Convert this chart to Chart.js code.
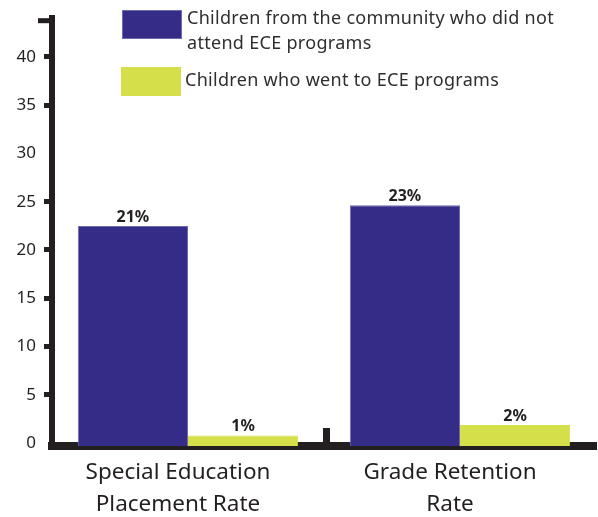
<!DOCTYPE html>
<html lang="en">
  <head>
    <meta charset="UTF-8" />
    <title>ECE programs</title>
    <script src="https://cdn.jsdelivr.net/npm/chart.js"></script>
    <style>
      body { margin: 0; background: #fff; }
      .wrap { position: relative; width: 598px; height: 517px; }
      .legend-box { position: absolute; width: 58px; height: 27px; }
      .legend-text {
        position: absolute;
        font-family: "Noto Sans", sans-serif;
        font-size: 18px;
        letter-spacing: 0.3px;
        line-height: 25px;
        color: #2e2e2e;
        white-space: nowrap;
      }
    </style>
  </head>
  <body>
    <div class="wrap">
      <canvas id="chart" width="598" height="517"></canvas>
      <div id="legend"></div>
    </div>
    <script>
      // data
      const categories = [["Special Education", "Placement Rate"], ["Grade Retention", "Rate"]];
      const seriesNames = [
        ["Children from the community who did not", "attend ECE programs"],
        ["Children who went to ECE programs"],
      ];
      const noEceValues = [21, 23];
      const eceValues = [1, 2];
      const yTicks = [0, 5, 10, 15, 20, 25, 30, 35, 40];
      const hiddenTickMarks = [0, 30];

      const blue = "#352c87";
      const green = "#d5df49";
      const ink = "#231f20";

      // legend (html, laid over the empty top of the plot)
      const legend = document.getElementById("legend");
      const legendRows = [
        { color: blue, border: "#6e69b3", boxTop: 10, boxLeft: 122, textTop: 5, textLeft: 187 },
        { color: green, border: green, boxTop: 67, boxLeft: 121, textTop: 67, textLeft: 185 },
      ];
      legendRows.forEach(function (row, i) {
        const box = document.createElement("div");
        box.className = "legend-box";
        box.style.left = row.boxLeft + "px";
        box.style.top = row.boxTop + "px";
        box.style.background = row.color;
        box.style.border = "1px solid " + row.border;
        legend.appendChild(box);
        const txt = document.createElement("div");
        txt.className = "legend-text";
        txt.style.left = row.textLeft + "px";
        txt.style.top = row.textTop + "px";
        txt.innerHTML = seriesNames[i].join("<br>");
        legend.appendChild(txt);
      });

      // value labels + small decorations on the axes
      const extras = {
        id: "extras",
        afterDatasetsDraw(chart) {
          const ctx = chart.ctx;
          ctx.save();
          ctx.fillStyle = ink;
          ctx.font = "bold 16px 'Noto Sans', sans-serif";
          ctx.textAlign = "center";
          ctx.textBaseline = "bottom";
          chart.data.datasets.forEach(function (ds, di) {
            chart.getDatasetMeta(di).data.forEach(function (bar, i) {
              ctx.fillText(ds.data[i] + "%", bar.x, bar.y - 1);
            });
          });
          const area = chart.chartArea;
          // cap on top of the y axis
          ctx.fillRect(area.left - 14, area.top, 17, 5);
          // separator between the two groups
          const xs = chart.scales.x;
          const mid = (xs.getPixelForValue(0) + xs.getPixelForValue(1)) / 2;
          ctx.fillRect(mid - 1, area.bottom - 18, 7, 18);
          ctx.restore();
        },
      };

      new Chart(document.getElementById("chart"), {
        type: "bar",
        data: {
          labels: categories,
          datasets: [
            {
              label: seriesNames[0].join(" "),
              data: noEceValues,
              backgroundColor: blue,
              borderColor: "#6e69b3",
              borderWidth: 1,
              categoryPercentage: 0.81,
              barPercentage: 1,
            },
            {
              label: seriesNames[1].join(" "),
              data: eceValues,
              backgroundColor: green,
              borderColor: green,
              borderWidth: 1,
              categoryPercentage: 0.81,
              barPercentage: 1,
            },
          ],
        },
        options: {
          responsive: false,
          animation: false,
          layout: { padding: { top: 12, right: 2, left: 0, bottom: 0 } },
          plugins: { legend: { display: false }, tooltip: { enabled: false } },
          scales: {
            x: {
              z: 1,
              grid: { drawOnChartArea: false, drawTicks: false },
              border: { display: true, width: 8, color: ink },
              ticks: {
                color: ink,
                font: { family: "'Noto Sans', sans-serif", size: 22.5, lineHeight: 1.42 },
                padding: 11,
                labelOffset: -10,
              },
              afterFit(scale) { scale.height = 71; },
            },
            // scale the bars are drawn on
            y: { display: false, min: 0, max: 40.85 },
            // printed axis
            y2: {
              position: "left",
              min: -0.3,
              max: 44,
              afterBuildTicks(scale) {
                scale.ticks = yTicks.map(function (v) { return { value: v }; });
              },
              grid: {
                drawOnChartArea: false,
                tickLength: 8,
                tickWidth: 5,
                tickColor(c) {
                  return c.tick && hiddenTickMarks.includes(c.tick.value) ? "rgba(0,0,0,0)" : ink;
                },
              },
              border: { display: true, width: 6, color: ink },
              ticks: {
                color: ink,
                font: { family: "'Noto Sans', sans-serif", size: 17 },
                padding: 8,
              },
              afterFit(scale) { scale.width = 52; },
            },
          },
        },
        plugins: [extras],
      });
    </script>
  </body>
</html>
